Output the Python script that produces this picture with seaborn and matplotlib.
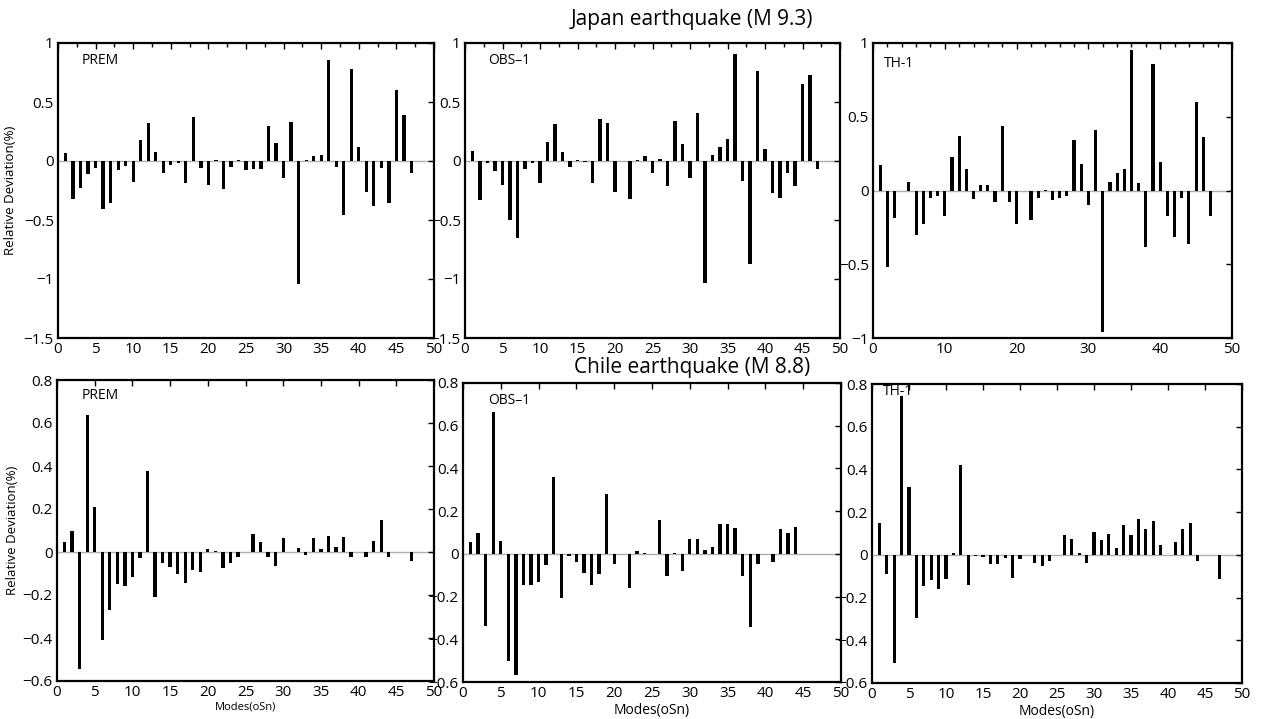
import numpy as np
import pandas as pd
import matplotlib
matplotlib.use("Agg")
import matplotlib.pyplot as plt
import seaborn as sns
from matplotlib.ticker import MultipleLocator

sns.set_style("white")
plt.rcParams['font.family'] = ['Open Sans', 'DejaVu Sans']
plt.rcParams['text.color'] = 'black'
plt.rcParams['axes.labelcolor'] = 'black'

modes = list(range(1, 48))

japan_prem = [0.07, -0.32, -0.23, -0.11, -0.06, -0.41, -0.36, -0.08, -0.04, -0.18,
              0.18, 0.32, 0.08, -0.10, -0.03, -0.02, -0.19, 0.37, -0.06, -0.20,
              0.005, -0.24, -0.05, 0.005, -0.08, -0.07, -0.07, 0.30, 0.15, -0.14,
              0.33, -1.04, 0.01, 0.04, 0.05, 0.855, -0.05, -0.46, 0.78, 0.12,
              -0.26, -0.38, -0.06, -0.36, 0.60, 0.39, -0.10]
japan_obs1 = [0.085, -0.33, -0.015, -0.085, -0.20, -0.50, -0.65, -0.07, -0.02, -0.19,
              0.165, 0.31, 0.08, -0.05, 0.01, -0.01, -0.185, 0.355, 0.32, -0.26,
              0.0, -0.32, 0.01, 0.04, -0.10, 0.02, -0.215, 0.34, 0.14, -0.145,
              0.405, -1.035, 0.055, 0.12, 0.185, 0.905, -0.17, -0.875, 0.76, 0.10,
              -0.27, -0.315, -0.105, -0.215, 0.65, 0.725, -0.065]
japan_th1 = [0.175, -0.52, -0.185, -0.005, 0.055, -0.30, -0.23, -0.05, -0.035, -0.17,
             0.225, 0.37, 0.145, -0.055, 0.035, 0.04, -0.08, 0.44, -0.075, -0.23,
             0.0, -0.20, -0.05, 0.005, -0.065, -0.05, -0.04, 0.34, 0.18, -0.10,
             0.41, -0.96, 0.06, 0.12, 0.145, 0.95, 0.05, -0.38, 0.855, 0.195,
             -0.17, -0.315, -0.05, -0.365, 0.60, 0.36, -0.17]
chile_prem = [0.045, 0.10, -0.545, 0.637, 0.21, -0.41, -0.27, -0.15, -0.16, -0.115,
              -0.03, 0.375, -0.21, -0.05, -0.07, -0.10, -0.145, -0.085, -0.095, 0.012,
              0.005, -0.075, -0.05, -0.025, 0.0, 0.084, 0.045, -0.023, -0.063, 0.067,
              0.002, 0.017, -0.014, 0.067, 0.012, 0.076, 0.022, 0.071, -0.022, 0.0,
              -0.022, 0.051, 0.15, -0.023, 0.0, 0.0, -0.04]
chile_obs1 = [0.056, 0.096, -0.338, 0.662, 0.062, -0.504, -0.566, -0.146, -0.146, -0.13,
              -0.05, 0.36, -0.205, -0.01, -0.036, -0.09, -0.147, -0.096, 0.28, -0.048,
              0.0, -0.158, 0.012, 0.005, 0.0, 0.16, -0.104, 0.006, -0.078, 0.068,
              0.071, 0.019, 0.033, 0.14, 0.138, 0.121, -0.102, -0.344, -0.047, 0.0,
              -0.039, 0.118, 0.098, 0.124, 0.0, 0.0, -0.003]
chile_th1 = [0.147, -0.09, -0.505, 0.745, 0.318, -0.294, -0.145, -0.117, -0.162, -0.112,
             0.008, 0.42, -0.14, -0.006, -0.009, -0.041, -0.044, -0.016, -0.109, -0.019,
             0.0, -0.036, -0.052, -0.028, 0.0, 0.092, 0.075, 0.009, -0.039, 0.108,
             0.07, 0.10, 0.034, 0.14, 0.095, 0.166, 0.123, 0.158, 0.048, 0.0,
             0.059, 0.119, 0.148, -0.031, 0.0, 0.0, -0.112]

model_names = ["PREM", "OBS\u20131", "TH-1"]
title_top = "Japan earthquake (M 9.3)"
title_bottom = "Chile earthquake (M 8.8)"
ylabel = "Relative Deviation(%)"
xlabel = "Modes(oSn)"

fig = plt.figure(figsize=(12.65, 7.19), dpi=100)
W, H = 1265, 719

def box(l, t, r, b):
    return [l / W, 1 - b / H, (r - l) / W, (b - t) / H]

panels = [
    (box(58, 43, 434, 338), japan_prem, (-1.5, 1), 0.5, 5, 2.5, model_names[0], (0.062, 0.965)),
    (box(465, 43, 840, 338), japan_obs1, (-1.5, 1), 0.5, 5, 2.5, model_names[1], (0.062, 0.965)),
    (box(873, 43, 1232, 338), japan_th1, (-1, 1), 0.5, 10, 2, model_names[2], (0.03, 0.955)),
    (box(57, 380, 434, 681), chile_prem, (-0.6, 0.8), 0.2, 5, 5, model_names[0], (0.064, 0.975)),
    (box(463, 383, 841, 682), chile_obs1, (-0.6, 0.8), 0.2, 5, 5, model_names[1], (0.066, 0.965)),
    (box(872, 384, 1242, 683), chile_th1, (-0.6, 0.8), 0.2, 5, 5, model_names[2], (0.03, 1.0)),
]

axes = []
for i, (pos, vals, ylim, ystep, xstep, xminor, name, tpos) in enumerate(panels):
    ax = fig.add_axes(pos)
    df = pd.DataFrame({"mode": modes, "dev": vals})
    ax.axhline(0, color="#b0b0b0", lw=1.0, zorder=0)
    sns.barplot(data=df, x="mode", y="dev", native_scale=True, color="black",
                width=0.44, errorbar=None, ax=ax, saturation=1, linewidth=0)
    ax.set_xlim(0, 50)
    ax.set_ylim(*ylim)
    ax.xaxis.set_major_locator(MultipleLocator(xstep))
    ax.xaxis.set_minor_locator(MultipleLocator(xminor))
    ax.yaxis.set_major_locator(MultipleLocator(ystep))
    ax.yaxis.set_major_formatter(matplotlib.ticker.FuncFormatter(
        lambda v, p: ("%g" % round(v, 2)).replace("-", "\u2212")))
    ax.tick_params(axis="both", which="both", direction="in", top=True, right=True,
                   labelsize=11, length=4, width=1, pad=3, colors="black")
    ax.tick_params(axis="both", which="minor", length=3)
    for s in ax.spines.values():
        s.set_color("black")
        s.set_linewidth(1.6)
    ax.set_xlabel("")
    ax.set_ylabel("")
    ax.text(tpos[0], tpos[1], name, transform=ax.transAxes, ha="left", va="top",
            fontsize=10, color="black")
    axes.append(ax)

axes[0].set_ylabel(ylabel, fontsize=9.5, labelpad=5)
axes[3].set_ylabel(ylabel, fontsize=9.5, labelpad=3)
axes[3].set_xlabel(xlabel, fontsize=8, labelpad=1)
axes[4].set_xlabel(xlabel, fontsize=10, labelpad=1)
axes[5].set_xlabel(xlabel, fontsize=10, labelpad=1)

fig.text(692 / W, 1 - 20 / H, title_top, ha="center", va="center", fontsize=15, color="black")
fig.text(692 / W, 1 - 367 / H, title_bottom, ha="center", va="center", fontsize=15, color="black")

fig.savefig("out.png", dpi=100, facecolor="white")
